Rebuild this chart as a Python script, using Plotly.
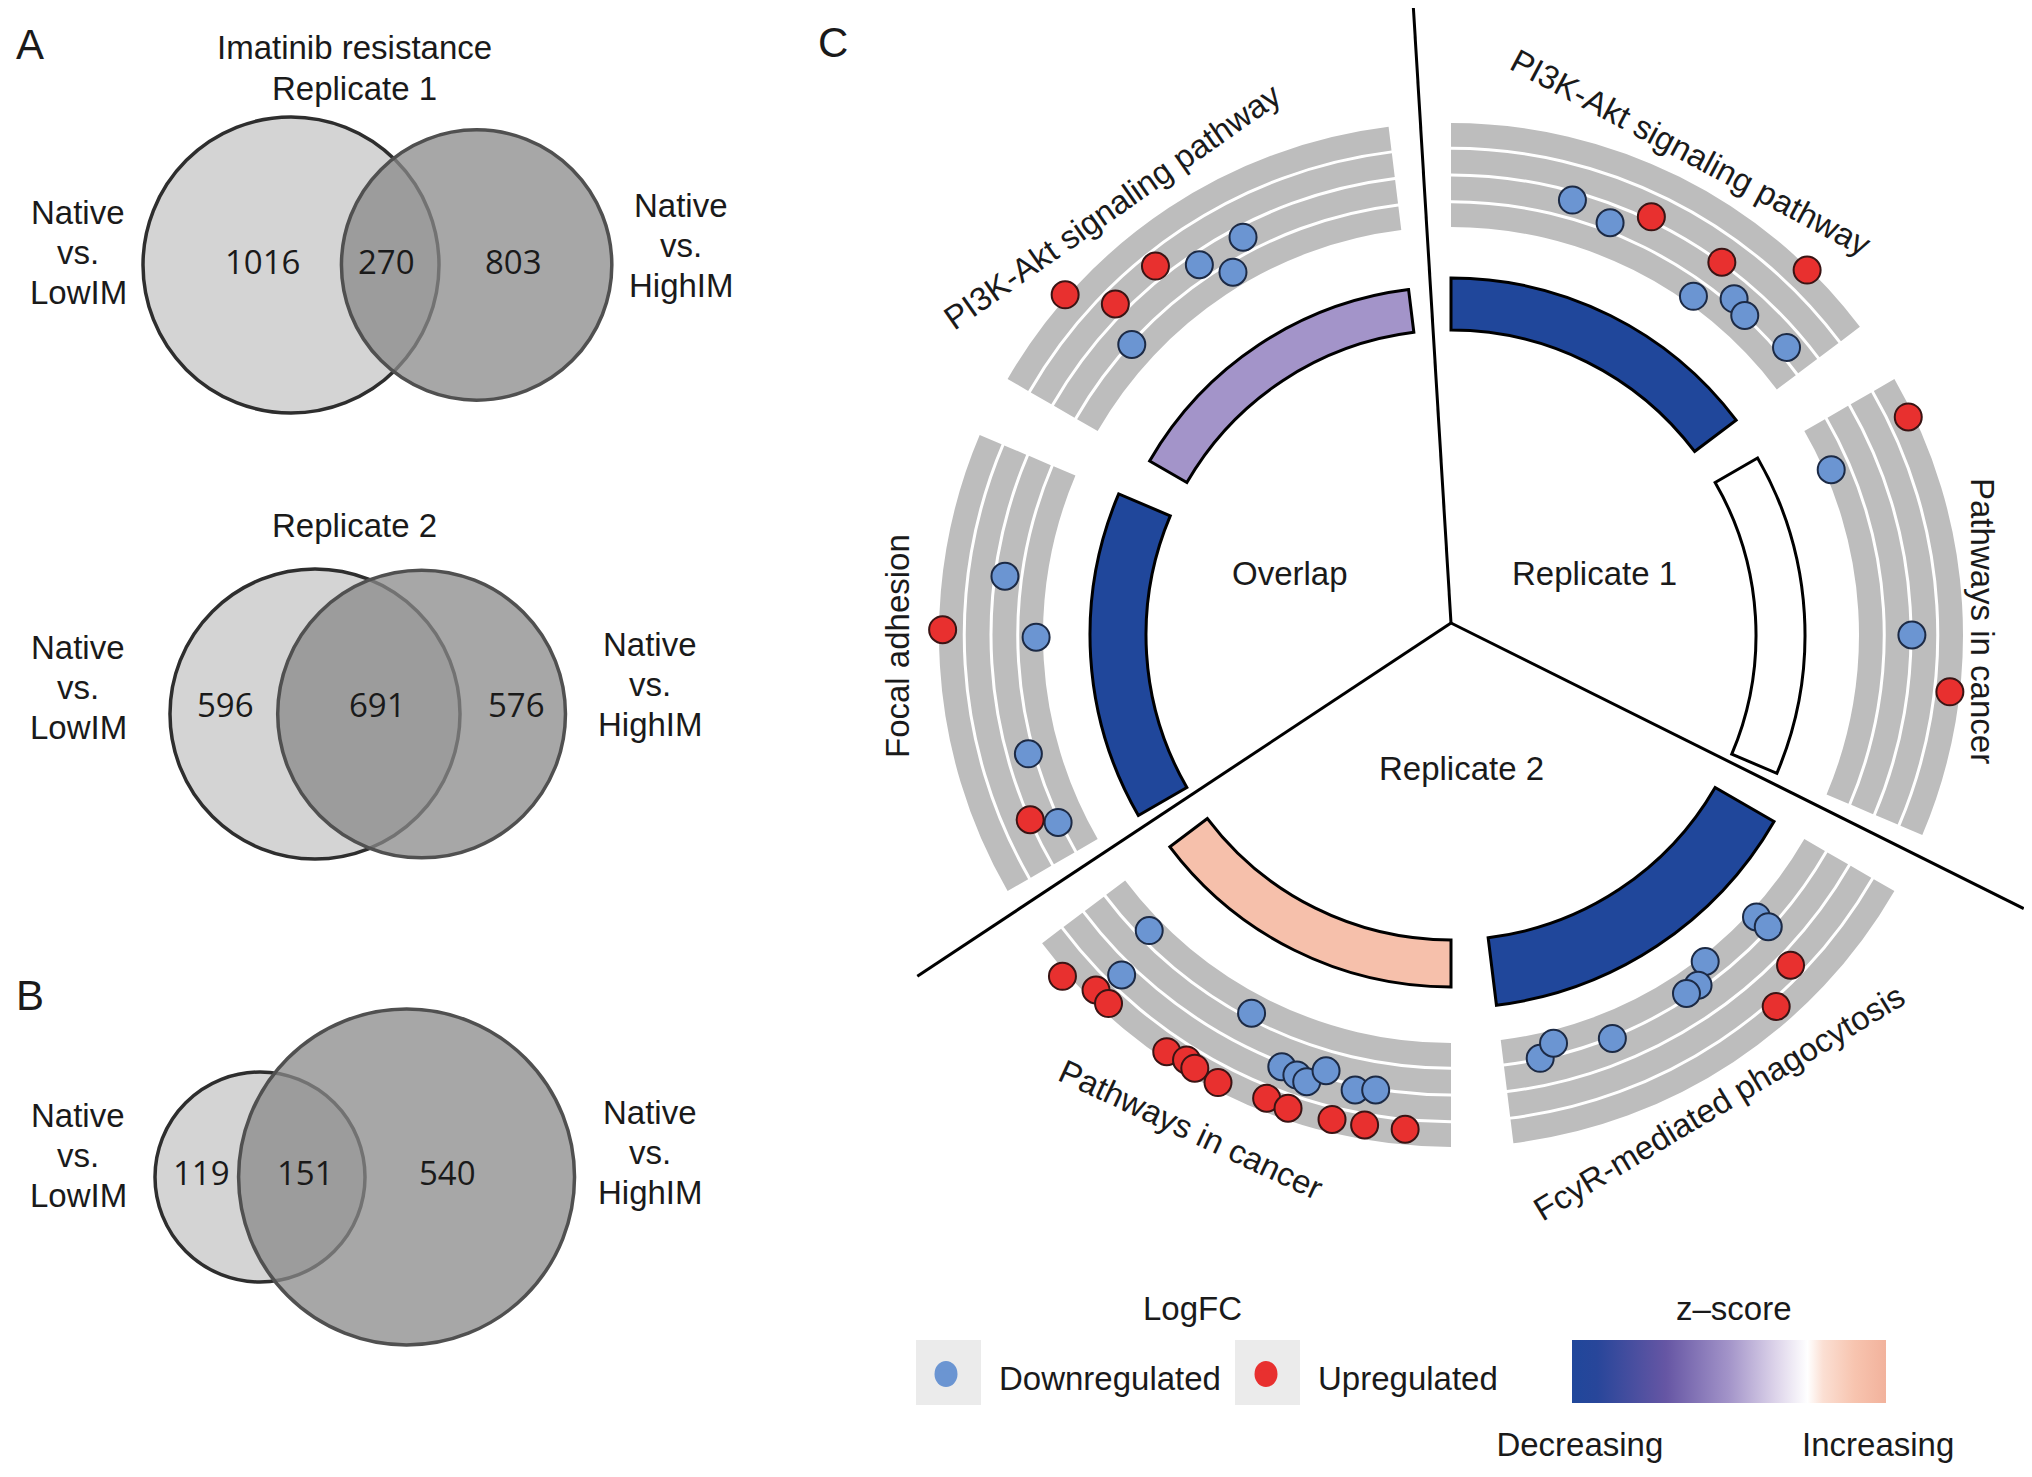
import math
import plotly.graph_objects as go

W, H = 2032, 1477

# ---------------- Panel A / B : Venn counts (left only, shared, right only) ----------------
venn_left_label = ["Native", "vs.", "LowIM"]
venn_right_label = ["Native", "vs.", "HighIM"]
venn_rep1 = [1016, 270, 803]
venn_rep2 = [596, 691, 576]
venn_both = [119, 151, 540]

# ---------------- Panel C : enriched terms (GOCircle style) ----------------
term_group = ["Replicate 1", "Replicate 1", "Replicate 2", "Replicate 2", "Overlap", "Overlap"]
term_name = ["PI3K-Akt signaling pathway", "Pathways in cancer", "FcyR-mediated phagocytosis",
             "Pathways in cancer", "Focal adhesion", "PI3K-Akt signaling pathway"]
term_zscore = [-3.0, 0.0, -3.0, 0.68, -3.0, -1.0]
term_neglog10p = [5.2, 4.9, 6.8, 4.7, 5.6, 4.3]

# genes: angular position (deg, clockwise from the Replicate 1 / Overlap divider) and radial logFC position
down_theta = [19.1, 24.6, 39.1, 43.6, 46.1, 52.9,
              70.0, 93.5,
              171.6, 169.4, 161.7, 145.6, 148.3, 150.2, 136.2, 136.1,
              229.1, 227.6, 211.3, 204.9, 202.8, 201.4, 199.5, 195.4, 192.9,
              281.0, 273.2, 257.8, 248.0,
              329.3, 335.9, 332.5, 315.8]
down_r = [451.6, 441.9, 416.5, 439.5, 434.0, 441.9,
          414.6, 460.9,
          432.6, 420.9, 434.5, 413.8, 428.6, 428.9, 415.7, 431.0,
          422.4, 473.3, 427.6, 463.7, 466.3, 469.4, 453.3, 465.0, 461.1,
          449.9, 414.9, 439.0, 435.3,
          447.7, 448.9, 423.3, 431.6]
up_theta = [29.1, 39.5, 47.8,
            68.0, 100.0,
            137.7, 142.3,
            232.2, 228.5, 226.4, 217.8, 215.4, 214.1, 211.0, 205.2, 202.5, 197.3, 193.5, 188.8,
            274.1, 249.8,
            314.9, 318.1, 324.8]
up_r = [463.7, 460.8, 509.9,
        506.6, 502.1,
        473.6, 493.7,
        517.2, 502.0, 503.1, 504.4, 500.5, 503.3, 504.6, 498.6, 500.5, 498.8, 497.5, 496.4,
        508.4, 459.6,
        514.4, 471.4, 472.7]

legend_names = ["Downregulated", "Upregulated"]

# ---------------- layout constants ----------------
FONT = "Liberation Sans"
NUMFONT = "Open Sans"
TXT = "#1a1a1a"
FS = 33
BLUE, RED = "#6b95d2", "#e8302f"
CX, CY, RP = 1443, 627, 581          # polar centre / radius in px
LX, LY = 1443, 615                   # where the three dividers meet
BAR_BASE, BAR_SCALE = 305, 10
BAND_IN, BAND_W, BAND_GAP, NBAND = 408, 23.75, 3.0, 4
SECTOR_W = 53
LINE_LEN = 640
ROT = 93.5


def lens_area(r1, r2, d):
    if d >= r1 + r2:
        return 0.0
    if d <= abs(r1 - r2):
        return math.pi * min(r1, r2) ** 2
    a1 = r1 * r1 * math.acos((d * d + r1 * r1 - r2 * r2) / (2 * d * r1))
    a2 = r2 * r2 * math.acos((d * d + r2 * r2 - r1 * r1) / (2 * d * r2))
    a3 = 0.5 * math.sqrt((-d + r1 + r2) * (d + r1 - r2) * (d - r1 + r2) * (d + r1 + r2))
    return a1 + a2 - a3


def venn_geometry(counts, k):
    left = counts[0] + counts[1]
    right = counts[2] + counts[1]
    r1, r2 = k * math.sqrt(left), k * math.sqrt(right)
    target = math.pi * k * k * counts[1]
    lo, hi = abs(r1 - r2) + 1e-6, r1 + r2
    for _ in range(200):
        mid = (lo + hi) / 2
        if lens_area(r1, r2, mid) > target:
            lo = mid
        else:
            hi = mid
    return r1, r2, (lo + hi) / 2


fig = go.Figure()

# invisible trace so the pixel-unit cartesian frame exists (for the Venn diagrams)
fig.add_trace(go.Scatter(x=[None], y=[None], showlegend=False, hoverinfo="skip"))

shapes = []
annotations = []


def add_text(x, y, text, size=FS, font=FONT, angle=0):
    annotations.append(dict(x=x, y=y, xref="x", yref="y", text=text, showarrow=False,
                            textangle=angle, font=dict(family=font, size=size, color=TXT),
                            xanchor="center", yanchor="middle"))


def draw_venn(counts, k, lx, cy, num_pos, left_lab_pos, right_lab_pos):
    r1, r2, d = venn_geometry(counts, k)
    rx = lx + d
    shapes.append(dict(type="circle", xref="x", yref="y", x0=lx - r1, x1=lx + r1, y0=cy - r1, y1=cy + r1,
                       fillcolor="#d4d4d4", line=dict(color="#2e2e2e", width=3.5), layer="above"))
    shapes.append(dict(type="circle", xref="x", yref="y", x0=rx - r2, x1=rx + r2, y0=cy - r2, y1=cy + r2,
                       fillcolor="rgba(137,137,137,0.75)", line=dict(color="#505050", width=3.5), layer="above"))
    for v, (x, y) in zip(counts, num_pos):
        add_text(x, y, str(v), size=33, font=NUMFONT)
    for i, t in enumerate(venn_left_label):
        add_text(left_lab_pos[0], left_lab_pos[1] + i * 40, t)
    for i, t in enumerate(venn_right_label):
        add_text(right_lab_pos[0], right_lab_pos[1] + i * 40, t)


draw_venn(venn_rep1, 4.127, 283, 257, [(254, 253), (378, 253), (505, 253)], (70, 204), (673, 197))
draw_venn(venn_rep2, 4.042, 307, 706, [(217, 696), (369, 696), (508, 696)], (70, 639), (642, 636))
draw_venn(venn_both, 6.39, 252, 1169, [(193, 1164), (297, 1164), (439, 1164)], (70, 1107), (642, 1104))

add_text(346, 39, "Imatinib resistance")
add_text(346, 80, "Replicate 1")
add_text(346, 517, "Replicate 2")
add_text(22, 36, "A", size=42)
add_text(22, 987, "B", size=42)
add_text(825, 34, "C", size=42)

# ---------------- Panel C (polar) ----------------
term_theta = [60 * i + 30 for i in range(len(term_name))]

# divider lines between the three groups (Replicate 1 | Replicate 2 | Overlap)
for g in range(3):
    ang = math.radians(ROT - 120 * g)
    shapes.append(dict(type="line", xref="x", yref="y", x0=LX, y0=LY,
                       x1=LX + LINE_LEN * math.cos(ang), y1=LY - LINE_LEN * math.sin(ang),
                       line=dict(color="black", width=3), layer="below"))

# grey logFC bands
bt, bb, br = [], [], []
for th in term_theta:
    for k in range(NBAND):
        bt.append(th)
        bb.append(BAND_IN + k * (BAND_W + BAND_GAP))
        br.append(BAND_W)
fig.add_trace(go.Barpolar(theta=bt, base=bb, r=br, width=[SECTOR_W] * len(bt),
                          marker=dict(color="#bdbdbd", line=dict(width=0)),
                          showlegend=False, hoverinfo="skip"))

zscale = [[0.0, "#20479b"], [0.08, "#28469a"], [0.3, "#6656a4"], [0.5, "#a394c9"], [0.65, "#ddd4ea"],
          [0.75, "#ffffff"], [0.8, "#fbdfd3"], [0.9, "#f7c4af"], [1.0, "#f2b29c"]]
fig.add_trace(go.Barpolar(
    theta=term_theta, base=[BAR_BASE] * len(term_theta), r=[v * BAR_SCALE for v in term_neglog10p],
    width=[SECTOR_W] * len(term_theta),
    marker=dict(color=term_zscore, colorscale=zscale, cmin=-3, cmax=1, line=dict(color="black", width=3),
                showscale=True,
                colorbar=dict(orientation="h", x=1721 / W, xanchor="center", y=1 - 1332 / H, yanchor="top",
                              lenmode="pixels", len=314, thickness=63, outlinewidth=0,
                              ticks="outside", ticklen=14, tickcolor="rgba(0,0,0,0)",
                              tickvals=[-2.9, 0.9], ticktext=["Decreasing", "Increasing"],
                              tickfont=dict(family=FONT, size=FS, color=TXT), xpad=0, ypad=0)),
    showlegend=False, hoverinfo="skip"))

fig.add_trace(go.Scatterpolar(theta=down_theta, r=down_r, mode="markers", name=legend_names[0],
                              marker=dict(size=27, color=BLUE, line=dict(color="#1c2a45", width=2)),
                              cliponaxis=False, showlegend=False))
fig.add_trace(go.Scatterpolar(theta=up_theta, r=up_r, mode="markers", name=legend_names[1],
                              marker=dict(size=27, color=RED, line=dict(color="#3a1414", width=2)),
                              cliponaxis=False, showlegend=False))

# legend entries (plain dots, as in the reference key)
for nm, col in zip(legend_names, [BLUE, RED]):
    fig.add_trace(go.Scatterpolar(theta=[None], r=[None], mode="markers", name=nm,
                                  marker=dict(size=16, color=col, line=dict(width=0)), showlegend=True))

# centre labels
for txt, (x, y) in zip(["Overlap", "Replicate 1", "Replicate 2"], [(1282, 565), (1586, 565), (1453, 760)]):
    add_text(x, y, txt)

# term labels
label_pos = [(1683, 144, 28), (1975, 613, 90), (1711, 1094, -31), (1183, 1121, 25), (889, 638, -90),
             (1104, 198, -35)]
for name, (x, y, a) in zip(term_name, label_pos):
    add_text(x, y, name, angle=a)

# legend / colorbar titles and key backgrounds
add_text(1184, 1300, "LogFC")
add_text(1726, 1300, "z\u2013score")
for x0, col, dx in zip((908, 1227), (BLUE, RED), (938, 1258)):
    shapes.append(dict(type="rect", xref="x", yref="y", x0=x0, x1=x0 + 65, y0=1332, y1=1397,
                       fillcolor="#ebebeb", line=dict(width=0), layer="below"))
    shapes.append(dict(type="circle", xref="x", yref="y", x0=dx - 11.5, x1=dx + 11.5, y0=1366 - 13, y1=1366 + 13,
                       fillcolor=col, line=dict(width=0), layer="above"))

fig.update_layout(
    width=W, height=H, margin=dict(l=0, r=0, t=0, b=0, autoexpand=False),
    paper_bgcolor="white", plot_bgcolor="rgba(0,0,0,0)",
    font=dict(family=FONT, size=FS, color=TXT),
    xaxis=dict(range=[0, W], visible=False, domain=[0, 1], fixedrange=True),
    yaxis=dict(range=[H, 0], visible=False, domain=[0, 1], fixedrange=True),
    polar=dict(
        domain=dict(x=[(CX - RP) / W, (CX + RP) / W], y=[1 - (CY + RP) / H, 1 - (CY - RP) / H]),
        bgcolor="rgba(0,0,0,0)",
        radialaxis=dict(range=[0, RP], visible=False),
        angularaxis=dict(rotation=ROT, direction="clockwise", visible=False, showgrid=False,
                         showline=False, ticks="", showticklabels=False),
    ),
    legend=dict(orientation="h", x=885 / W, y=1 - 1369 / H, xanchor="left", yanchor="middle",
                bgcolor="rgba(0,0,0,0)", itemwidth=96, entrywidth=208, entrywidthmode="pixels",
                font=dict(family=FONT, size=FS, color=TXT)),
    shapes=shapes,
    annotations=annotations,
    showlegend=True,
)

fig.write_html("out.html")
